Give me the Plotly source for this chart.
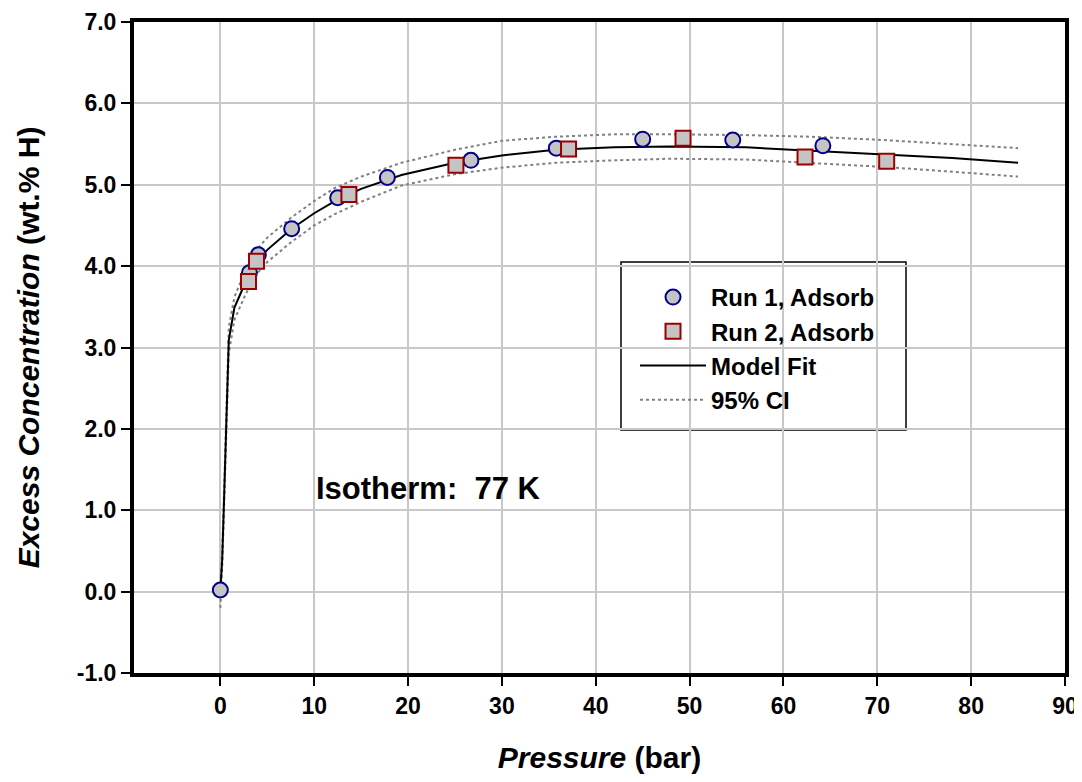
import plotly.graph_objects as go

# measured data
run1_p = [0.0, 3.1, 4.05, 7.6, 12.5, 17.8, 26.7, 35.8, 45.0, 54.6, 64.2]
run1_c = [0.02, 3.92, 4.14, 4.46, 4.84, 5.09, 5.30, 5.45, 5.56, 5.55, 5.48]
run2_p = [3.0, 3.85, 13.7, 25.1, 37.1, 49.3, 62.3, 71.0]
run2_c = [3.81, 4.06, 4.88, 5.24, 5.44, 5.57, 5.34, 5.29]

# model fit and confidence band
fit_p = [0, 0.2, 0.4, 0.6, 0.75, 0.9, 1.5, 2.6, 3.7, 5, 7.6, 10, 12.2, 15,
         19.3, 25, 30, 35.7, 42, 48, 56, 63, 70.6, 78, 85]
fit_c = [0.0, 0.4, 1.15, 1.94, 2.76, 3.09, 3.49, 3.78, 4.03, 4.2, 4.46, 4.65,
         4.80, 4.95, 5.12, 5.27, 5.36, 5.43, 5.46, 5.47, 5.46, 5.42, 5.38, 5.33, 5.27]
ci_hi = [0.1, 0.5, 1.25, 2.05, 2.9, 3.25, 3.62, 3.93, 4.18, 4.35, 4.6, 4.8,
         4.96, 5.1, 5.27, 5.43, 5.54, 5.59, 5.62, 5.62, 5.61, 5.59, 5.55, 5.5, 5.45]
ci_lo = [-0.2, 0.3, 1.05, 1.83, 2.62, 2.93, 3.34, 3.63, 3.88, 4.05, 4.3, 4.5,
         4.64, 4.79, 4.99, 5.13, 5.21, 5.27, 5.30, 5.32, 5.31, 5.27, 5.22, 5.16, 5.10]

x_ticks = list(range(0, 91, 10))
y_ticks = [-1, 0, 1, 2, 3, 4, 5, 6, 7]
y_labels = ['-1.0', '0.0', '1.0', '2.0', '3.0', '4.0', '5.0', '6.0', '7.0']

FONT = "Liberation Sans, Arial, sans-serif"

fig = go.Figure()

fig.add_trace(go.Scatter(x=fit_p, y=ci_hi, mode='lines', showlegend=False,
                         line=dict(color='#808080', width=2, dash='dot')))
fig.add_trace(go.Scatter(x=fit_p, y=ci_lo, mode='lines', showlegend=False,
                         line=dict(color='#808080', width=2, dash='dot')))
fig.add_trace(go.Scatter(x=fit_p, y=fit_c, mode='lines', showlegend=False,
                         line=dict(color='black', width=2)))

fig.add_trace(go.Scatter(x=run1_p, y=run1_c, mode='markers', name='Run 1, Adsorb',
                         marker=dict(symbol='circle', size=15, color='#c4c4c4',
                                     line=dict(color='#00008b', width=2))))
fig.add_trace(go.Scatter(x=run2_p, y=run2_c, mode='markers', name='Run 2, Adsorb',
                         marker=dict(symbol='square', size=15, color='#c4c4c4',
                                     line=dict(color='#9b0000', width=2))))
# legend-only entries for the lines
fig.add_trace(go.Scatter(x=[None], y=[None], mode='lines', name='Model Fit',
                         line=dict(color='black', width=2)))
fig.add_trace(go.Scatter(x=[None], y=[None], mode='lines', name='95% CI',
                         line=dict(color='#808080', width=2, dash='dot')))

fig.add_annotation(x=10, y=1.27, xref='x', yref='y', text='<b>Isotherm:  77 K</b>',
                   showarrow=False, xanchor='left', yanchor='middle',
                   font=dict(family=FONT, size=31, color='black'))

# legend frame
fig.add_shape(type='rect', xref='paper', yref='paper',
              x0=(621 - 134) / 931, x1=(906 - 134) / 931,
              y0=(673 - 430) / 651, y1=(673 - 262) / 651,
              line=dict(color='black', width=1.5), fillcolor='white', layer='below')

tick_font = dict(family=FONT, size=23, color='black', weight='bold')

fig.update_layout(
    width=1074, height=766,
    margin=dict(l=126, r=17, t=14, b=101, autoexpand=False),
    plot_bgcolor='white', paper_bgcolor='white',
    font=dict(family=FONT, color='black'),
    legend=dict(x=(635 - 134) / 931, y=(673 - 275) / 651, xanchor='left', yanchor='top',
                bgcolor='rgba(0,0,0,0)', borderwidth=0, itemwidth=66,
                font=dict(family=FONT, size=24, color='black', weight='bold'),
                tracegroupgap=0),
    xaxis=dict(range=[-9.2, 90], tickmode='array', tickvals=x_ticks, automargin=False,
               showgrid=True, gridcolor='#c8c8c8', gridwidth=2, zeroline=False,
               showline=True, linecolor='black', linewidth=4, mirror=True,
               ticks='outside', ticklen=9, tickwidth=2, tickcolor='black',
               tickfont=tick_font,
               title=dict(text='<b><i>Pressure</i> (bar)</b>', standoff=34,
                          font=dict(family=FONT, size=30, color='black'))),
    yaxis=dict(range=[-1, 7], tickmode='array', tickvals=y_ticks, ticktext=y_labels,
               automargin=False,
               showgrid=True, gridcolor='#c8c8c8', gridwidth=2, zeroline=False,
               showline=True, linecolor='black', linewidth=4, mirror=True,
               ticks='outside', ticklen=9, tickwidth=2, tickcolor='black',
               tickfont=tick_font,
               title=dict(text='<b><i>Excess Concentration</i> (wt.% H)</b>', standoff=29,
                          font=dict(family=FONT, size=30, color='black'))),
)

fig.write_html("out.html")
